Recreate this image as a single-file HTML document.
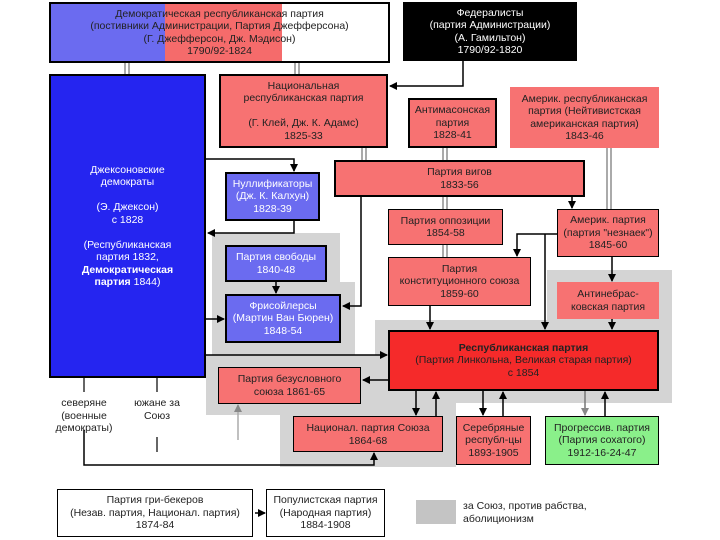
<!DOCTYPE html>
<html><head><meta charset="utf-8"><style>
body{margin:0;width:720px;height:540px;background:#fff;position:relative;overflow:hidden;font-family:"Liberation Sans",sans-serif;font-size:10.5px;line-height:12.5px}
.b{position:absolute;box-sizing:border-box;border:2px solid #000;display:flex;flex-direction:column;justify-content:center;align-items:center;text-align:center;color:#222}
.g{position:absolute;background:#d4d4d4}
.r{background:#f77272}.bl{background:#6b6bf0;color:#fff}.t{position:absolute;text-align:center;color:#222}
svg{position:absolute;left:0;top:0}
</style></head><body>
<div class="g" style="left:212px;top:233px;width:128px;height:122px"></div>
<div class="g" style="left:212px;top:282px;width:143px;height:73px"></div>
<div class="g" style="left:206px;top:355px;width:175px;height:60px"></div>
<div class="g" style="left:375px;top:320px;width:297px;height:83px"></div>
<div class="g" style="left:547px;top:270px;width:125px;height:60px"></div>
<div class="g" style="left:280px;top:400px;width:176px;height:67px"></div>

<div class="b" style="left:49px;top:2px;width:341px;height:61px;background:linear-gradient(90deg,#6b6bf0 0 114px,#f56b6b 114px 231px,#fff 231px)"><div>Демократическая республиканская партия<br>(постивники Администрации, Партия Джефферсона)<br>(Г. Джефферсон, Дж. Мэдисон)<br>1790/92-1824</div></div>
<div class="b" style="left:403px;top:2px;width:174px;height:59px;background:#000;color:#fff"><div>Федералисты<br>(партия Администрации)<br>(А. Гамильтон)<br>1790/92-1820</div></div>
<div class="b" style="left:49px;top:74px;width:157px;height:304px;background:#2525f0;color:#fff"><div>Джексоновские<br>демократы<br><br>(Э. Джексон)<br>с 1828<br><br>(Республиканская<br>партия 1832,<br><b>Демократическая<br>партия</b> 1844)</div></div>
<div class="b r" style="left:219px;top:74px;width:169px;height:74px"><div>Национальная<br>республиканская партия<br><br>(Г. Клей, Дж. К. Адамс)<br>1825-33</div></div>
<div class="b r" style="left:408px;top:98px;width:89px;height:50px"><div>Антимасонская<br>партия<br>1828-41</div></div>
<div class="b r" style="left:510px;top:87px;width:149px;height:61px;border:none"><div>Америк. республиканская<br>партия (Нейтивистская<br>американская партия)<br>1843-46</div></div>
<div class="b r" style="left:334px;top:160px;width:251px;height:37px"><div>Партия вигов<br>1833-56</div></div>
<div class="b bl" style="left:225px;top:172px;width:95px;height:49px"><div>Нуллификаторы<br>(Дж. К. Калхун)<br>1828-39</div></div>
<div class="b bl" style="left:225px;top:245px;width:102px;height:37px"><div>Партия свободы<br>1840-48</div></div>
<div class="b bl" style="left:225px;top:294px;width:116px;height:49px"><div>Фрисойлерсы<br>(Мартин Ван Бюрен)<br>1848-54</div></div>
<div class="b r" style="left:388px;top:209px;width:115px;height:36px;border:1px solid #000"><div>Партия оппозиции<br>1854-58</div></div>
<div class="b r" style="left:388px;top:257px;width:143px;height:49px;border:1px solid #000"><div>Партия<br>конституционного союза<br>1859-60</div></div>
<div class="b r" style="left:557px;top:209px;width:102px;height:48px;border:1px solid #000"><div>Америк. партия<br>(партия "незнаек")<br>1845-60</div></div>
<div class="b r" style="left:557px;top:282px;width:102px;height:37px;border:none"><div>Антинебрас-<br>ковская партия</div></div>
<div class="b" style="left:388px;top:330px;width:271px;height:61px;background:#f52a2a"><div><b>Республиканская партия</b><br>(Партия Линкольна, Великая старая партия)<br>с 1854</div></div>
<div class="b r" style="left:218px;top:367px;width:143px;height:37px;border:1px solid #000"><div>Партия безусловного<br>союза 1861-65</div></div>
<div class="b r" style="left:293px;top:416px;width:150px;height:36px;border:1px solid #000;justify-content:flex-start;padding-top:5px"><div>Национал. партия Союза<br>1864-68</div></div>
<div class="b r" style="left:456px;top:416px;width:75px;height:49px;border:1px solid #000"><div>Серебряные<br>республ-цы<br>1893-1905</div></div>
<div class="b" style="left:545px;top:416px;width:114px;height:49px;border:1px solid #000;background:#8af08a"><div>Прогрессив. партия<br>(Партия сохатого)<br>1912-16-24-47</div></div>
<div class="t" style="left:44px;top:397px;width:80px">северяне<br>(военные<br>демократы)</div>
<div class="t" style="left:125px;top:397px;width:64px">южане за<br>Союз</div>
<div class="b" style="left:57px;top:489px;width:196px;height:48px;border:1px solid #000"><div>Партия гри-бекеров<br>(Незав. партия, Национал. партия)<br>1874-84</div></div>
<div class="b" style="left:266px;top:489px;width:119px;height:48px;border:1px solid #000"><div>Популистская партия<br>(Народная партия)<br>1884-1908</div></div>
<div class="g" style="left:416px;top:500px;width:40px;height:24px;background:#c4c4c4"></div>
<div class="t" style="left:463px;top:500px;text-align:left">за Союз, против рабства,<br>аболиционизм</div>

<svg width="720" height="540">
<defs><marker id="a" markerWidth="8" markerHeight="8" refX="7" refY="4" orient="auto" markerUnits="userSpaceOnUse"><path d="M0,0L8,4L0,8z" fill="#000"/></marker>
<marker id="ag" markerWidth="8" markerHeight="8" refX="7" refY="4" orient="auto" markerUnits="userSpaceOnUse"><path d="M0,0L8,4L0,8z" fill="#888"/></marker></defs>
<g stroke="#555" stroke-width="1" fill="none">
<path d="M125,63V74M129,63V74M295,63V74M299,63V74M362,148V160M366,148V160M443,148V160M447,148V160M443,197V209M447,197V209M443,245V257M447,245V257M607,148V209M611,148V209"/>
</g>
<g stroke="#000" stroke-width="1.5" fill="none" marker-end="url(#a)">
<path d="M463,61V86H390"/>
<path d="M206,159H294V171"/>
<path d="M294,221V233H208"/>
<path d="M276,282V293"/>
<path d="M206,319H224"/>
<path d="M361,197V306H343"/>
<path d="M572,197V208"/>
<path d="M557,234H517V256"/>
<path d="M545,234V329"/>
<path d="M612,257V281"/>
<path d="M612,319V329"/>
<path d="M430,306V329"/>
<path d="M206,355H387"/>
<path d="M388,380H363"/>
<path d="M416,391V415"/><path d="M436,416V392"/>
<path d="M483,391V415"/><path d="M503,416V392"/>
<path d="M605,416V392"/>
<path d="M84,430V465H374V453"/>
<path d="M255,513H265"/>
</g>
<path d="M585,391V415" stroke="#777" stroke-width="1.5" marker-end="url(#ag)"/>
<path d="M238,440V405" stroke="#aaa" stroke-width="1.5" marker-end="url(#ag)"/>
<g stroke="#000" stroke-width="1.2"><path d="M84,378V392M157,378V392M157,437V452"/></g>
</svg>
</body></html>
